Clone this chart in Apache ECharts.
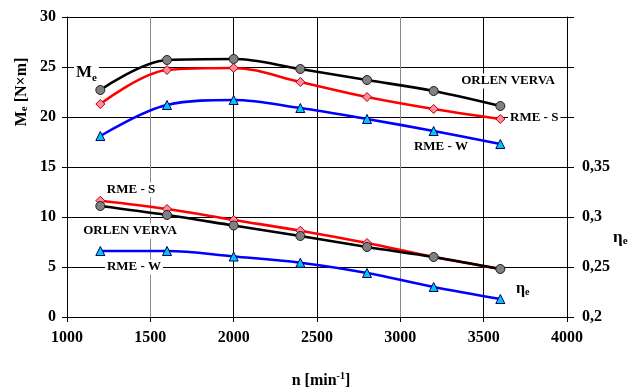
<!DOCTYPE html>
<html>
<head>
<meta charset="utf-8">
<script src="https://cdn.jsdelivr.net/npm/echarts@6/dist/echarts.min.js"></script>
<style>html,body{margin:0;padding:0;background:#fff}#c{width:631px;height:387px}</style>
</head>
<body>
<div id="c"></div>
<script>
const rpm = [1200, 1600, 2000, 2400, 2800, 3200, 3600];
const meOrlen = [22.7, 25.7, 25.8, 24.8, 23.7, 22.6, 21.1];
const meRmeS = [21.3, 24.7, 24.9, 23.5, 22.0, 20.8, 19.8];
const meRmeW = [18.1, 21.2, 21.7, 20.9, 19.8, 18.6, 17.3];
const etaOrlen = [0.311, 0.302, 0.2915, 0.281, 0.270, 0.260, 0.248];
const etaRmeS = [0.3163, 0.308, 0.297, 0.2863, 0.274, 0.260, 0.248];
const etaRmeW = [0.266, 0.266, 0.2605, 0.2543, 0.244, 0.230, 0.218];
const xTicks = [1000, 1500, 2000, 2500, 3000, 3500, 4000];
const etaLabelMax = 0.35;

const FONT = '"Liberation Serif", "DejaVu Serif", serif';
const pair = (xs, ys) => xs.map((x, i) => [x, ys[i]]);

const styles = {
  orlen: { color: '#000000', symbol: 'circle', fill: '#808080', border: '#202020', size: 9 },
  rmeS: { color: '#ff0000', symbol: 'diamond', fill: '#ff8aa0', border: '#b00000', size: 9 },
  rmeW: { color: '#0000ff', symbol: 'triangle', fill: '#00c8e8', border: '#000070', size: 9 }
};

function mk(name, data, st, yIdx, z) {
  return {
    name, type: 'line', yAxisIndex: yIdx, data, smooth: 0.35, z,
    symbol: st.symbol, symbolSize: st.size,
    lineStyle: { color: st.color, width: 2.6 },
    itemStyle: { color: st.fill, borderColor: st.border, borderWidth: 1 },
    emphasis: { disabled: true }
  };
}

function label(x, y, rich, text, align) {
  return {
    type: 'text', x, y, z: 1,
    style: {
      text, rich, fill: '#000', font: 'bold 13px ' + FONT,
      align: align || 'left', verticalAlign: 'middle',
      backgroundColor: '#ffffff', padding: [1, 2]
    }
  };
}
const plain = { t: { fontFamily: FONT, fontWeight: 'bold', fontSize: 13, fill: '#000' } };

const chart = echarts.init(document.getElementById('c'), null, { renderer: 'canvas' });
chart.setOption({
  animation: false,
  backgroundColor: '#ffffff',
  grid: { left: 67, right: 64, top: 17, bottom: 70 },
  xAxis: {
    type: 'value', min: xTicks[0], max: xTicks[xTicks.length - 1], interval: 500,
    axisLine: { show: true, onZero: false, lineStyle: { color: '#000', width: 1 } },
    axisTick: { show: true, inside: false, length: 5, lineStyle: { color: '#000' } },
    axisLabel: { margin: 13, color: '#000', fontFamily: FONT, fontWeight: 'bold', fontSize: 16, formatter: v => String(v) },
    splitLine: { show: true, lineStyle: { color: ['#000', '#8a8a8a', '#000', '#000', '#8a8a8a', '#000', '#000'], width: 1 } }
  },
  yAxis: [
    {
      type: 'value', min: 0, max: 30, interval: 5, position: 'left',
      axisLine: { show: true, lineStyle: { color: '#000', width: 1 } },
      axisTick: { show: true, inside: false, length: 5, lineStyle: { color: '#000' } },
      axisLabel: { margin: 11, color: '#000', fontFamily: FONT, fontWeight: 'bold', fontSize: 16, formatter: v => String(v) },
      splitLine: { show: true, lineStyle: { color: '#000', width: 1 } }
    },
    {
      type: 'value', min: 0.2, max: 0.5, interval: 0.05, position: 'right',
      axisLine: { show: true, onZero: false, lineStyle: { color: '#000', width: 1 } },
      axisTick: { show: true, inside: false, length: 7, lineStyle: { color: '#000' } },
      axisLabel: {
        margin: 15, color: '#000', fontFamily: FONT, fontWeight: 'bold', fontSize: 16,
        formatter: v => v <= etaLabelMax + 1e-9 ? String(Math.round(v * 100) / 100).replace('.', ',') : ''
      },
      splitLine: { show: false }
    }
  ],
  series: [
    mk('Me ORLEN VERVA', pair(rpm, meOrlen), styles.orlen, 0, 3),
    mk('Me RME - S', pair(rpm, meRmeS), styles.rmeS, 0, 3),
    mk('Me RME - W', pair(rpm, meRmeW), styles.rmeW, 0, 3),
    mk('eta RME - S', pair(rpm, etaRmeS), styles.rmeS, 1, 3),
    mk('eta ORLEN VERVA', pair(rpm, etaOrlen), styles.orlen, 1, 4),
    mk('eta RME - W', pair(rpm, etaRmeW), styles.rmeW, 1, 3)
  ],
  graphic: [
    {
      type: 'text', x: 74, y: 71, z: 1,
      style: {
        text: '{m|M}{s|e}', backgroundColor: '#fff', padding: [0, 2], verticalAlign: 'middle',
        rich: {
          m: { fontFamily: FONT, fontWeight: 'bold', fontSize: 17, fill: '#000', lineHeight: 20, verticalAlign: 'bottom' },
          s: { fontFamily: FONT, fontWeight: 'bold', fontSize: 11, fill: '#000', lineHeight: 14, verticalAlign: 'bottom', padding: [0, 0, -3, 0] }
        }
      }
    },
    label(508, 81, plain, '{t|ORLEN VERVA}', 'center'),
    label(508, 118, plain, '{t|RME - S}', 'left'),
    label(441, 147, plain, '{t|RME - W}', 'center'),
    label(131, 190, plain, '{t|RME - S}', 'center'),
    label(130, 231, plain, '{t|ORLEN VERVA}', 'center'),
    label(134, 267, plain, '{t|RME - W}', 'center'),
    {
      type: 'text', x: 516, y: 288, z: 1,
      style: {
        text: '{m|η}{s|e}', verticalAlign: 'middle',
        rich: {
          m: { fontFamily: FONT, fontWeight: 'bold', fontSize: 16, fill: '#000', lineHeight: 18, verticalAlign: 'bottom' },
          s: { fontFamily: FONT, fontWeight: 'bold', fontSize: 10, fill: '#000', lineHeight: 12, verticalAlign: 'bottom' }
        }
      }
    },
    {
      type: 'text', x: 613, y: 237, z: 1,
      style: {
        text: '{m|η}{s|e}', verticalAlign: 'middle',
        rich: {
          m: { fontFamily: FONT, fontWeight: 'bold', fontSize: 17, fill: '#000', lineHeight: 19, verticalAlign: 'bottom' },
          s: { fontFamily: FONT, fontWeight: 'bold', fontSize: 11, fill: '#000', lineHeight: 13, verticalAlign: 'bottom' }
        }
      }
    },
    {
      type: 'text', x: 20, y: 92, rotation: Math.PI / 2, z: 1,
      style: {
        text: '{m|M}{s|e}{m| [N×m]}', align: 'center', verticalAlign: 'middle',
        rich: {
          m: { fontFamily: FONT, fontWeight: 'bold', fontSize: 16, fill: '#000', lineHeight: 19, verticalAlign: 'bottom' },
          s: { fontFamily: FONT, fontWeight: 'bold', fontSize: 11, fill: '#000', lineHeight: 13, verticalAlign: 'bottom' }
        }
      }
    },
    {
      type: 'text', x: 321, y: 380, z: 1,
      style: {
        text: '{m|n [min}{p|-1}{m|]}', align: 'center', verticalAlign: 'middle',
        rich: {
          m: { fontFamily: FONT, fontWeight: 'bold', fontSize: 16, fill: '#000', lineHeight: 18, verticalAlign: 'bottom' },
          p: { fontFamily: FONT, fontWeight: 'bold', fontSize: 10, fill: '#000', lineHeight: 18, verticalAlign: 'top' }
        }
      }
    }
  ]
});
</script>
</body>
</html>
